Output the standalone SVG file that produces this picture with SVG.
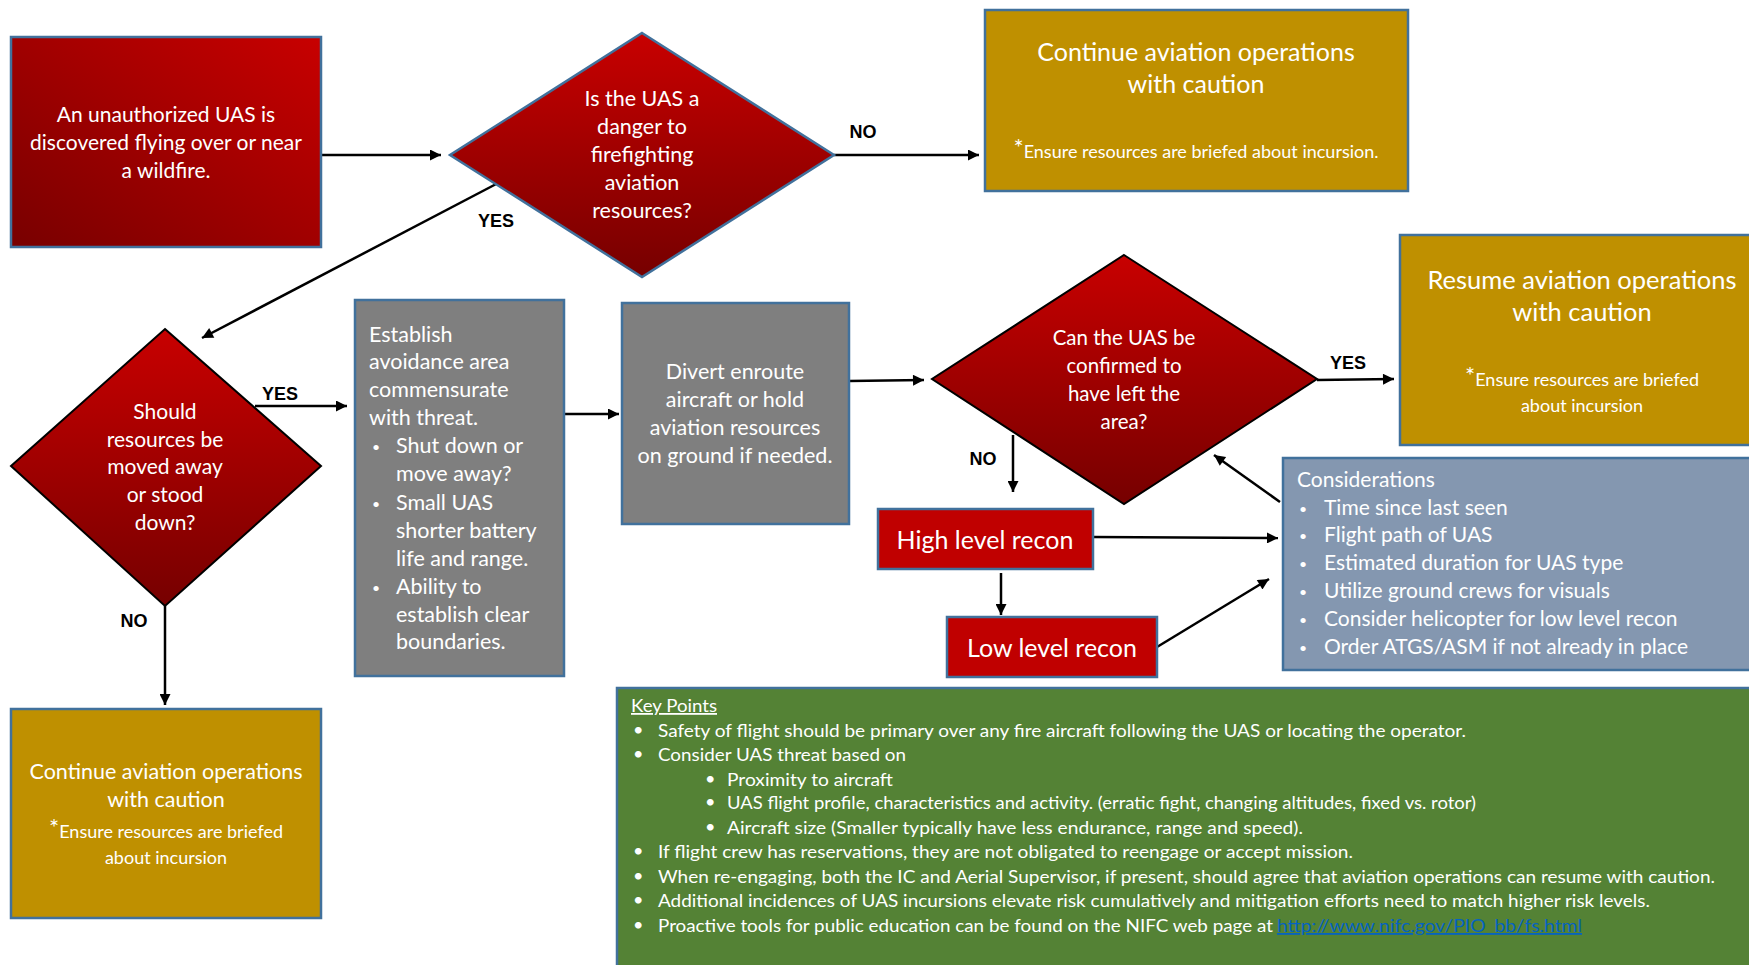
<svg xmlns="http://www.w3.org/2000/svg" width="1749" height="965" viewBox="0 0 1749 965">
<defs>
<linearGradient id="gDiag" x1="1" y1="0" x2="0" y2="1">
<stop offset="0" stop-color="#C80000"/><stop offset="1" stop-color="#780000"/>
</linearGradient>
<linearGradient id="gVert" x1="0" y1="0" x2="0" y2="1">
<stop offset="0" stop-color="#C80000"/><stop offset="1" stop-color="#760000"/>
</linearGradient>
<marker id="ah" viewBox="0 0 10 10" refX="10" refY="5" markerWidth="13" markerHeight="11" markerUnits="userSpaceOnUse" orient="auto">
<path d="M0,0 L10,5 L0,10 z" fill="#000"/>
</marker>
<style>
.bx{stroke:#41719C;stroke-width:2.5}
.red{fill:#C00000}
.gold{fill:#BF9000}
.gray{fill:#7F7F7F}
.slate{fill:#8497B0}
.green{fill:#548235}
.t{font-family:Lato,"Liberation Sans",sans-serif;fill:#fff}
.c{text-anchor:middle}
.b{font-size:14px}
.lbl{font-family:"Liberation Sans",Arial,sans-serif;font-weight:bold;font-size:18px;fill:#000}
.ln{stroke:#000;stroke-width:2.5;fill:none;marker-end:url(#ah)}
.kp{font-family:Lato,"Liberation Sans",sans-serif;fill:#fff;font-size:18px}
</style>
</defs>

<g id="connectors">
<line class="ln" x1="321" y1="155" x2="441" y2="155"/>
<line class="ln" x1="834" y1="155" x2="979" y2="155"/>
<line class="ln" x1="500" y1="182" x2="202" y2="338"/>
<line class="ln" x1="255" y1="406" x2="347" y2="406"/>
<line class="ln" x1="165" y1="606" x2="165" y2="705"/>
<line class="ln" x1="564" y1="414" x2="619" y2="414"/>
<line class="ln" x1="849" y1="381" x2="924" y2="380"/>
<line class="ln" x1="1317" y1="380" x2="1394" y2="379"/>
<line class="ln" x1="1013" y1="435" x2="1013" y2="492"/>
<line class="ln" x1="1001" y1="573" x2="1001" y2="615"/>
<line class="ln" x1="1093" y1="537" x2="1278" y2="538"/>
<line class="ln" x1="1157" y1="647" x2="1269" y2="579"/>
<line class="ln" x1="1280" y1="502" x2="1214" y2="455"/>
<text class="lbl" x="863" y="138" text-anchor="middle">NO</text>
<text class="lbl" x="496" y="227" text-anchor="middle">YES</text>
<text class="lbl" x="280" y="400" text-anchor="middle">YES</text>
<text class="lbl" x="134" y="627" text-anchor="middle">NO</text>
<text class="lbl" x="1348" y="369" text-anchor="middle">YES</text>
<text class="lbl" x="983" y="465" text-anchor="middle">NO</text>
</g>

<g id="start">
<rect class="bx" x="11" y="37" width="310" height="210" fill="url(#gDiag)"/>
<text class="t c" font-size="21"><tspan x="166" y="122">An unauthorized UAS is</tspan><tspan x="166" y="150">discovered flying over or near</tspan><tspan x="166" y="178">a wildfire.</tspan></text>
</g>

<g id="q-danger">
<polygon class="bx" points="642,33 834,155 642,277 450,155" fill="url(#gVert)"/>
<text class="t c" font-size="21.5"><tspan x="642" y="106">Is the UAS a</tspan><tspan x="642" y="134">danger to</tspan><tspan x="642" y="162">firefighting</tspan><tspan x="642" y="190">aviation</tspan><tspan x="642" y="218">resources?</tspan></text>
</g>

<g id="continue-top">
<rect class="bx gold" x="985" y="10" width="423" height="181"/>
<text class="t c" font-size="25"><tspan x="1196" y="61">Continue aviation operations</tspan><tspan x="1196" y="93">with caution</tspan></text>
<text class="t c" font-size="18" x="1196" y="158"><tspan font-size="24" dy="-2">*</tspan><tspan dy="2">Ensure resources are briefed about incursion.</tspan></text>
</g>

<g id="q-move">
<polygon points="165,329 321,466 165,606 11,466" fill="url(#gVert)" stroke="#000" stroke-width="2"/>
<text class="t c" font-size="21"><tspan x="165" y="419">Should</tspan><tspan x="165" y="447">resources be</tspan><tspan x="165" y="474">moved away</tspan><tspan x="165" y="502">or stood</tspan><tspan x="165" y="530">down?</tspan></text>
</g>

<g id="continue-bottom">
<rect class="bx gold" x="11" y="709" width="310" height="209"/>
<text class="t c" font-size="21.5"><tspan x="166" y="779">Continue aviation operations</tspan><tspan x="166" y="807">with caution</tspan></text>
<text class="t c" font-size="18" x="166" y="838"><tspan font-size="24" dy="-2">*</tspan><tspan dy="2">Ensure resources are briefed</tspan></text>
<text class="t c" font-size="18" x="166" y="864">about incursion</text>
</g>

<g id="avoidance">
<rect class="bx gray" x="355" y="300" width="209" height="376"/>
<text class="t" font-size="21.5"><tspan x="369" y="342">Establish</tspan><tspan x="369" y="369">avoidance area</tspan><tspan x="369" y="397">commensurate</tspan><tspan x="369" y="425">with threat.</tspan></text>
<text class="t" font-size="21.5"><tspan class="b" x="372" y="452">•</tspan><tspan x="396" y="453">Shut down or</tspan><tspan x="396" y="481">move away?</tspan><tspan class="b" x="372" y="509">•</tspan><tspan x="396" y="510">Small UAS</tspan><tspan x="396" y="538">shorter battery</tspan><tspan x="396" y="566">life and range.</tspan><tspan class="b" x="372" y="593">•</tspan><tspan x="396" y="594">Ability to</tspan><tspan x="396" y="622">establish clear</tspan><tspan x="396" y="649">boundaries.</tspan></text>
</g>

<g id="divert">
<rect class="bx gray" x="622" y="303" width="227" height="221"/>
<text class="t c" font-size="21.5"><tspan x="735" y="379">Divert enroute</tspan><tspan x="735" y="407">aircraft or hold</tspan><tspan x="735" y="435">aviation resources</tspan><tspan x="735" y="463">on ground if needed.</tspan></text>
</g>

<g id="q-left">
<polygon points="1124,255 1317,379 1124,504 932,379" fill="url(#gVert)" stroke="#000" stroke-width="2"/>
<text class="t c" font-size="20.5"><tspan x="1124" y="345">Can the UAS be</tspan><tspan x="1124" y="373">confirmed to</tspan><tspan x="1124" y="401">have left the</tspan><tspan x="1124" y="429">area?</tspan></text>
</g>

<g id="resume">
<rect class="bx gold" x="1400" y="235" width="370" height="210"/>
<text class="t c" font-size="25.5"><tspan x="1582" y="289">Resume aviation operations</tspan><tspan x="1582" y="321">with caution</tspan></text>
<text class="t c" font-size="18" x="1582" y="386"><tspan font-size="24" dy="-2">*</tspan><tspan dy="2">Ensure resources are briefed</tspan></text>
<text class="t c" font-size="18" x="1582" y="412">about incursion</text>
</g>

<g id="high-recon">
<rect class="bx red" x="878" y="509" width="215" height="60"/>
<text class="t c" font-size="25" x="985" y="549">High level recon</text>
</g>

<g id="low-recon">
<rect class="bx red" x="947" y="617" width="210" height="60"/>
<text class="t c" font-size="25" x="1052" y="657">Low level recon</text>
</g>

<g id="considerations">
<rect class="bx slate" x="1283" y="458" width="480" height="212"/>
<text class="t" font-size="21"><tspan x="1297" y="487">Considerations</tspan></text>
<text class="t" font-size="21"><tspan class="b" x="1299" y="514">•</tspan><tspan x="1324" y="515">Time since last seen</tspan><tspan class="b" x="1299" y="541">•</tspan><tspan x="1324" y="542">Flight path of UAS</tspan><tspan class="b" x="1299" y="569">•</tspan><tspan x="1324" y="570">Estimated duration for UAS type</tspan><tspan class="b" x="1299" y="597">•</tspan><tspan x="1324" y="598">Utilize ground crews for visuals</tspan><tspan class="b" x="1299" y="625">•</tspan><tspan x="1324" y="626">Consider helicopter for low level recon</tspan><tspan class="b" x="1299" y="653">•</tspan><tspan x="1324" y="654">Order ATGS/ASM if not already in place</tspan></text>
</g>

<g id="key-points">
<rect class="bx green" x="617" y="688" width="1150" height="290"/>
<text class="kp" x="631" y="712" text-decoration="underline" textLength="86" lengthAdjust="spacingAndGlyphs">Key Points</text>
<text class="kp b" x="633" y="736">•</text>
<text class="kp" x="658" y="737" textLength="808" lengthAdjust="spacingAndGlyphs">Safety of flight should be primary over any fire aircraft following the UAS or locating the operator.</text>
<text class="kp b" x="633" y="760">•</text>
<text class="kp" x="658" y="761" textLength="248" lengthAdjust="spacingAndGlyphs">Consider UAS threat based on</text>
<text class="kp b" x="705" y="785">•</text>
<text class="kp" x="727" y="786" textLength="166" lengthAdjust="spacingAndGlyphs">Proximity to aircraft</text>
<text class="kp b" x="705" y="808">•</text>
<text class="kp" x="727" y="809" textLength="749" lengthAdjust="spacingAndGlyphs">UAS flight profile, characteristics and activity.  (erratic fight, changing altitudes, fixed vs. rotor)</text>
<text class="kp b" x="705" y="833">•</text>
<text class="kp" x="727" y="834" textLength="576" lengthAdjust="spacingAndGlyphs">Aircraft size (Smaller typically have less endurance, range and speed).</text>
<text class="kp b" x="633" y="857">•</text>
<text class="kp" x="658" y="858" textLength="695" lengthAdjust="spacingAndGlyphs">If flight crew has reservations, they are not obligated to reengage or accept mission.</text>
<text class="kp b" x="633" y="882">•</text>
<text class="kp" x="658" y="883" textLength="1057" lengthAdjust="spacingAndGlyphs">When re-engaging, both the IC and Aerial Supervisor, if present, should agree that aviation operations can resume with caution.</text>
<text class="kp b" x="633" y="906">•</text>
<text class="kp" x="658" y="907" textLength="992" lengthAdjust="spacingAndGlyphs">Additional incidences of UAS incursions elevate risk cumulatively and mitigation efforts need to match higher risk levels.</text>
<text class="kp b" x="633" y="931">•</text>
<text class="kp" x="658" y="932" textLength="615" lengthAdjust="spacingAndGlyphs">Proactive tools for public education can be found on the NIFC web page at</text>
<text class="kp" x="1277" y="932" textLength="305" lengthAdjust="spacingAndGlyphs" text-decoration="underline" style="fill:#0563C1">http://www.nifc.gov/PIO_bb/fs.html</text>
</g>
</svg>
